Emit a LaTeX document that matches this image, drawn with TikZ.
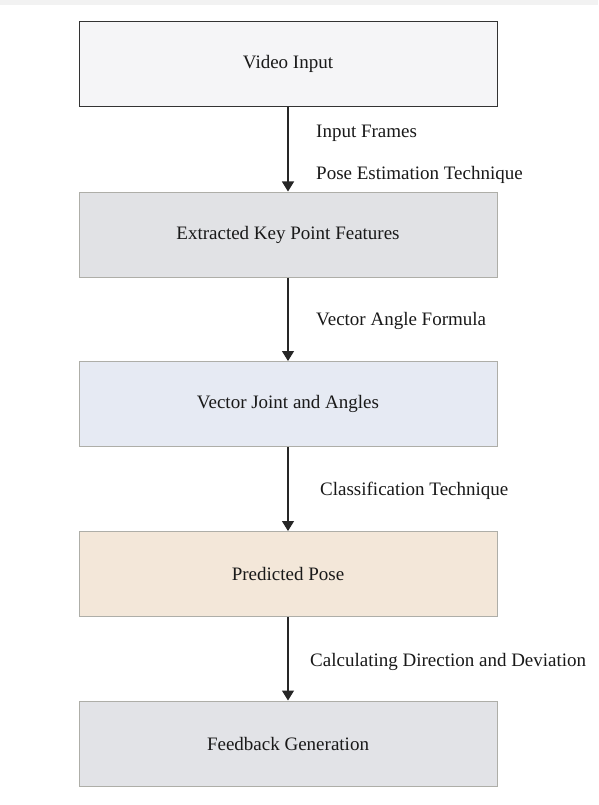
\documentclass[tikz,border=0pt]{standalone}
\usepackage{fontspec}
\setmainfont{Liberation Serif}
\usetikzlibrary{arrows.meta}
\definecolor{boxA}{HTML}{F5F5F7}
\definecolor{boxB}{HTML}{E1E2E5}
\definecolor{boxC}{HTML}{E6EAF3}
\definecolor{boxD}{HTML}{F3E7D9}
\definecolor{boxE}{HTML}{E2E3E7}
\definecolor{edgeg}{HTML}{AEAEA8}
\definecolor{topband}{HTML}{F2F2F2}
\tikzset{
  stage/.style={draw=edgeg, line width=1pt, minimum width=418pt, minimum height=85pt, inner sep=0pt, font=\fontsize{19}{22}\selectfont, text=black!90},
  flow/.style={line width=1.2pt, draw=black!85, -{Triangle[width=12pt,length=10pt]}},
  lab/.style={anchor=west, font=\fontsize{19}{22}\selectfont, text=black!90, inner sep=0pt}
}
\begin{document}
\begin{tikzpicture}[x=1pt,y=-1pt]
\useasboundingbox (0,0) rectangle (598,805);
\fill[white] (0,0) rectangle (598,805);
\fill[topband] (0,0) rectangle (598,5);
\node[stage, fill=boxA, draw=black!80] (video) at (288,64) {Video Input};
\node[stage, fill=boxB] (feat) at (288,234.5) {Extracted Key Point Features};
\node[stage, fill=boxC] (vec) at (288,404) {Vector Joint and Angles};
\node[stage, fill=boxD] (pred) at (288,574) {Predicted Pose};
\node[stage, fill=boxE] (fb) at (288,743.5) {Feedback Generation};
\draw[flow] (video) -- (feat);
\draw[flow] (feat) -- (vec);
\draw[flow] (vec) -- (pred);
\draw[flow] (pred) -- (fb);
\node[lab] (l1) at (316,133) {Input Frames};
\node[lab] (l2) at (316,175) {Pose Estimation Technique};
\node[lab] (l3) at (316,321) {Vector Angle Formula};
\node[lab] (l4) at (320,491) {Classification Technique};
\node[lab] (l5) at (310,662) {Calculating Direction and Deviation};
\end{tikzpicture}
\end{document}
